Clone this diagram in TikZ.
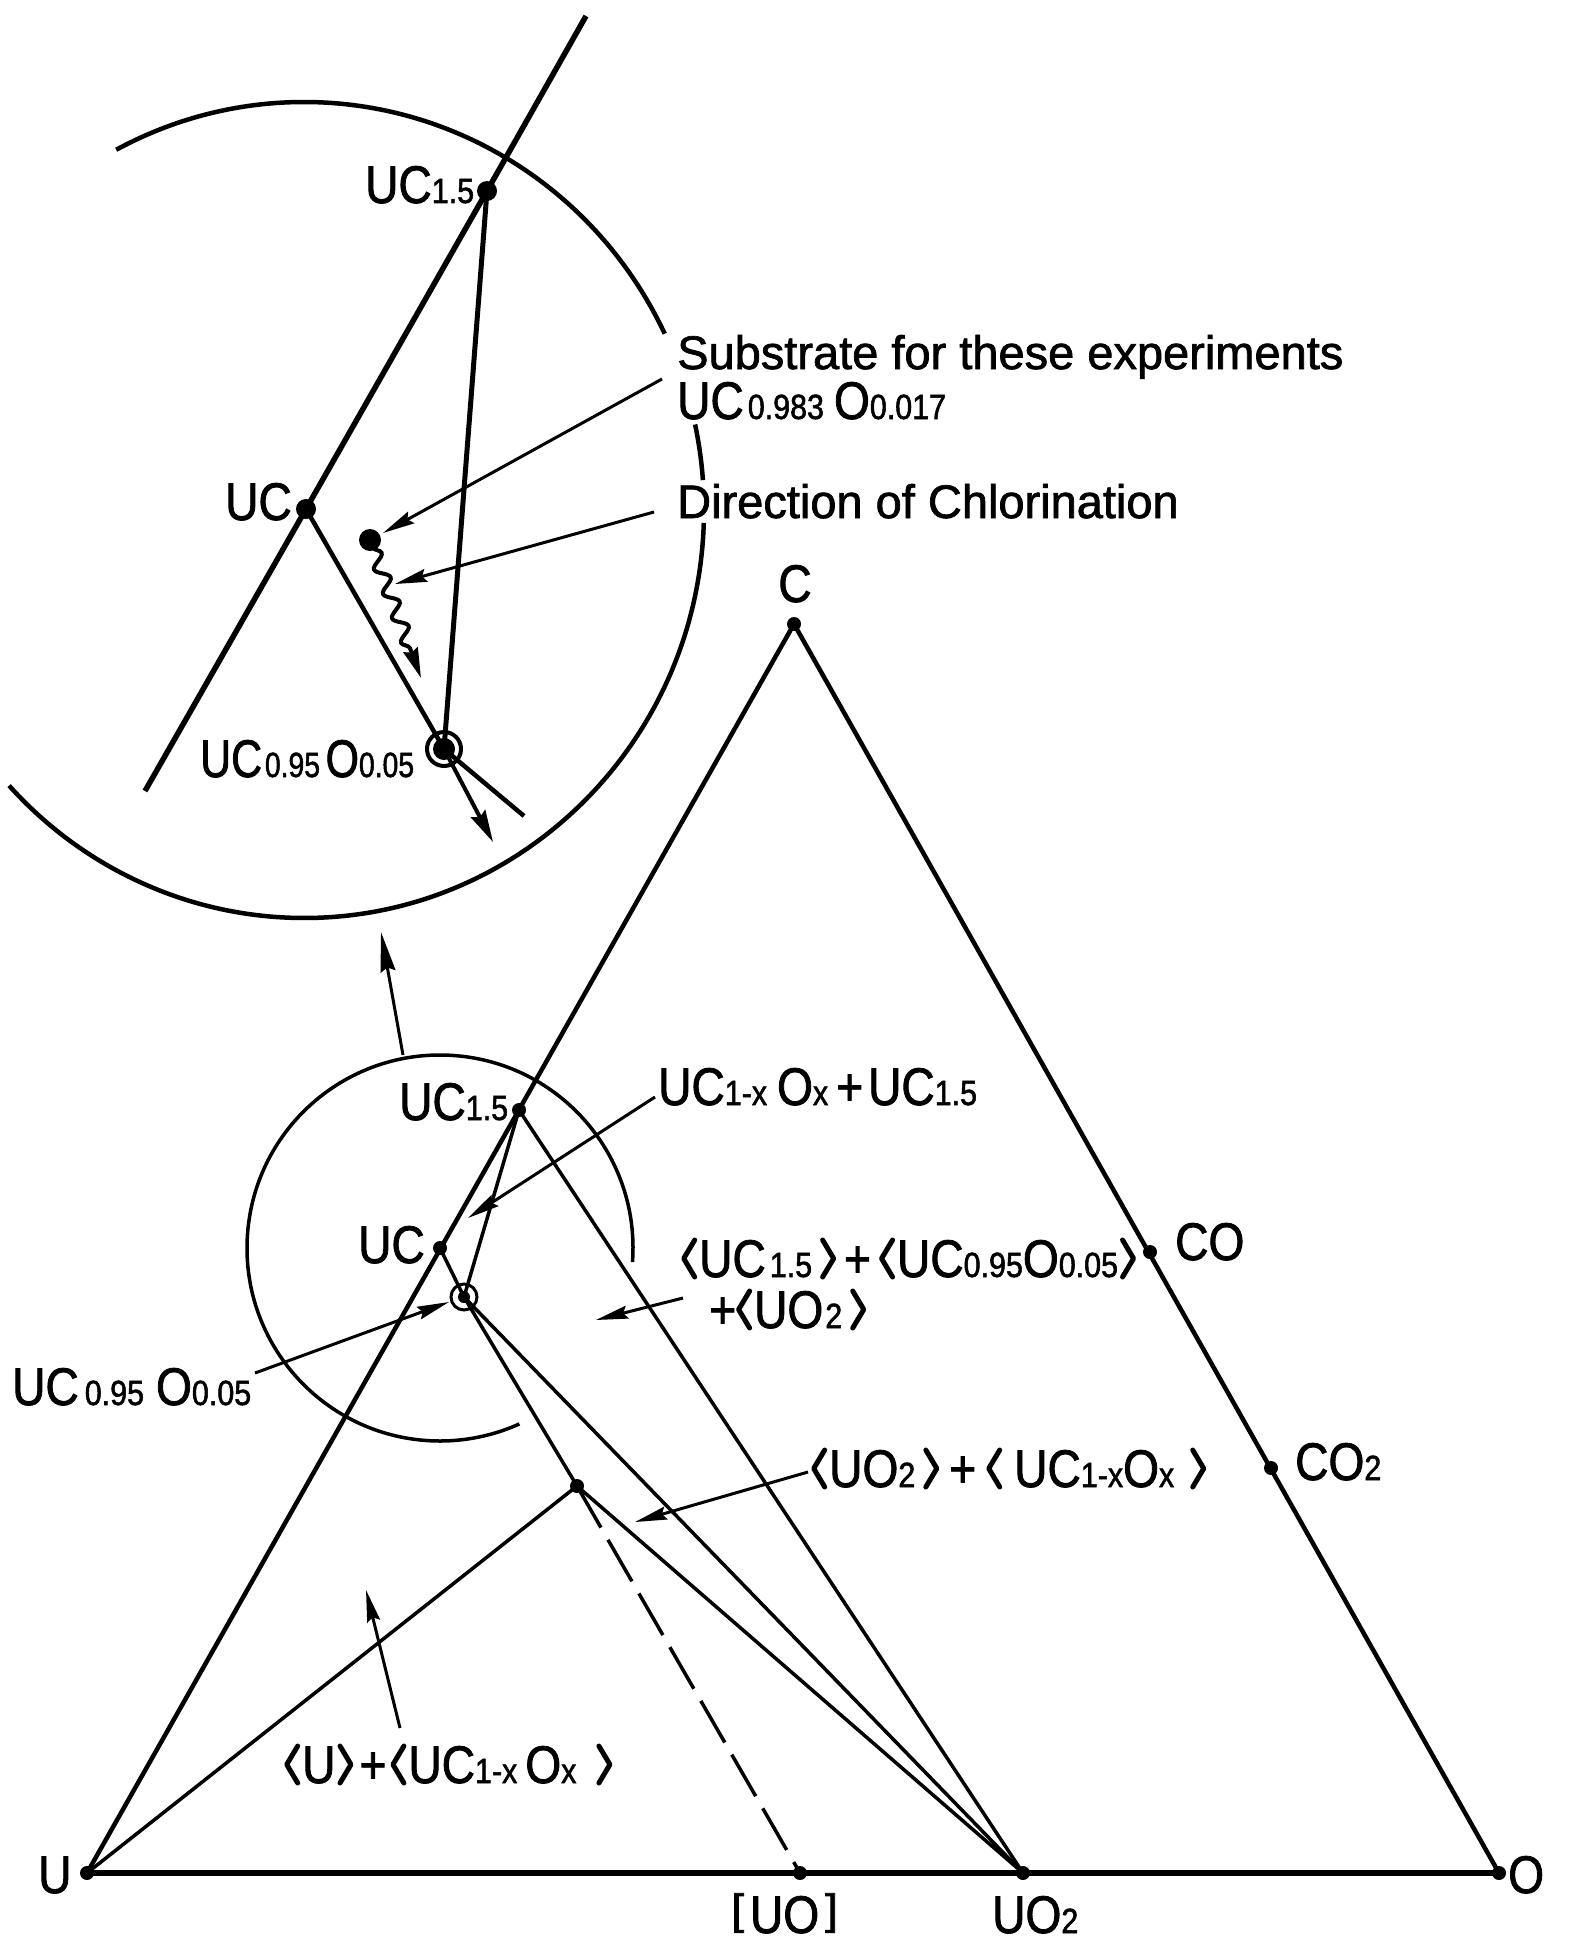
\documentclass[tikz,border=0pt]{standalone}
\usepackage{fontspec}
\setmainfont{Liberation Sans}[FakeBold=1.5]
\newfontfamily\lab{Liberation Sans}[FakeStretch=0.87,FakeBold=1.5]
\usetikzlibrary{arrows.meta,decorations.pathmorphing}
\newcommand\capsz{\fontsize{53}{56}\selectfont}
\newcommand\dg[1]{{\fontsize{35}{35}\selectfont #1}}
\newcommand\lang{\tikz[baseline=0pt,x=1pt,y=1pt]\draw[line width=5pt,line cap=round,line join=round](13,37)--(2,18.5)--(13,0);\hspace{2pt}}
\newcommand\rang{\hspace{2pt}\tikz[baseline=0pt,x=1pt,y=1pt]\draw[line width=5pt,line cap=round,line join=round](2,37)--(13,18.5)--(2,0);}
\newcommand\lbr{\raisebox{9pt}{\scalebox{1}[0.8]{[}}}
\newcommand\rbr{\raisebox{9pt}{\scalebox{1}[0.8]{]}}}
\begin{document}
\begin{tikzpicture}[x=1pt,y=-1pt,
  edge/.style={line width=4.5pt,line join=round},
  tie/.style={line width=3.5pt},
  leader/.style={line width=3pt,-{Stealth[length=32pt,width=13pt,inset=4pt]}},
  lbl/.style={inner sep=0pt,anchor=base west,font=\lab\capsz},
  txt/.style={inner sep=0pt,anchor=base west,font=\fontsize{47}{50}\selectfont}]
\fill[white] (0,0) rectangle (1572,1945);
\useasboundingbox (0,0) rectangle (1572,1945);

% ---------- ternary diagram (bottom) ----------
\coordinate (U) at (87,1873);
\coordinate (UO) at (800,1873);
\coordinate (UOtwo) at (1023,1873);
\coordinate (O) at (1499,1873);
\coordinate (C) at (794,624);
\coordinate (CO) at (1150,1252);
\coordinate (COtwo) at (1271,1468);
\coordinate (UCb) at (440,1248);
\coordinate (UCfb) at (519,1110);
\coordinate (UCOb) at (464,1297);
\coordinate (T) at (577,1486);

\draw[line width=6pt] (U) -- (O);
\draw[edge] (U) -- (C) -- (O);
\draw[tie] (U) -- (T) -- (UOtwo);
\draw[tie] (UCOb) -- (T);
\draw[tie] (UCOb) -- (UOtwo);
\draw[tie] (UCfb) -- (UOtwo);
\draw[tie] (UCfb) -- (UCOb);
\draw[tie] (UCb) -- (UCOb);
\draw[line width=3.5pt,dash pattern=on 48pt off 14pt] (T) -- (UO);

\foreach \p in {U,UO,UOtwo,O,C,CO,COtwo,UCb,UCfb,T}
  \fill (\p) circle[radius=7];
\draw[line width=3pt] (UCOb) circle[radius=13];
\fill (UCOb) circle[radius=6];

% magnifier circle (small)
\coordinate (SC) at (440,1248);
\draw[line width=3.5pt] (SC) ++(4.2:193) arc[start angle=4.2,end angle=-294.3,radius=193];
\coordinate (magA) at (403,1055);
\coordinate (magB) at (381,932);
\draw[line width=3pt,-{Stealth[length=40pt,width=15pt,inset=4pt]}] (magA) -- (magB);

% bottom labels
\node[lbl] (lU) at (38,1893) {U};
\node[lbl] (lO) at (1508,1893) {O};
\node[lbl] (lUO) at (731,1933) {\lbr\hspace{6pt}UO\hspace{6pt}\rbr};
\node[lbl] (lUOtwo) at (992,1933) {UO\dg{2}};
\node[lbl,anchor=base] (lC) at (795,602) {C};
\node[lbl] (lCO) at (1175,1260) {CO};
\node[lbl] (lCOtwo) at (1295,1480) {CO\dg{2}};
\node[lbl] (lUCfb) at (399,1120) {UC\dg{1.5}};
\node[lbl] (lUCb) at (358,1263) {UC};
\node[lbl] (lUCOb) at (12,1405) {UC\hspace{6pt}\dg{0.95}\hspace{12pt}O\dg{0.05}};
\node[lbl] (lmixA) at (658,1105) {UC\dg{1-x}\hspace{10pt}O\dg{x}\hspace{8pt}+\hspace{5pt}UC\dg{1.5}};
\node[lbl] (lmixB) at (681,1277) {\lang UC\hspace{4pt}\dg{1.5}\hspace{6pt}\rang\hspace{8pt}+\hspace{8pt}\lang UC\dg{0.95}O\dg{0.05}\rang};
\node[lbl] (lmixBb) at (709,1328) {+\lang UO\hspace{2pt}\dg{2}\hspace{6pt}\rang};
\node[lbl] (lmixC) at (811,1487) {\lang UO\dg{2}\hspace{6pt}\rang\hspace{10pt}+\hspace{10pt}\lang\hspace{10pt}UC\dg{1-x}O\dg{x}\hspace{14pt}\rang};
\node[lbl] (lmixD) at (284,1783) {\lang U\rang\hspace{6pt}+\hspace{4pt}\lang UC\dg{1-x}\hspace{8pt}O\dg{x}\hspace{18pt}\rang};

% bottom leaders
\coordinate (aA) at (255,1373); \coordinate (aAe) at (449,1302);
\coordinate (aB) at (655,1097); \coordinate (aBe) at (468,1218);
\coordinate (aC) at (683,1298); \coordinate (aCe) at (596,1320);
\coordinate (aD) at (808,1472); \coordinate (aDe) at (635,1522);
\coordinate (aE) at (400,1728); \coordinate (aEe) at (366,1590);
\draw[leader] (aA) -- (aAe);
\draw[leader] (aB) -- (aBe);
\draw[leader] (aC) -- (aCe);
\draw[leader] (aD) -- (aDe);
\draw[leader] (aE) -- (aEe);

% ---------- magnified view (top) ----------
\coordinate (UCt) at (306,509);
\coordinate (UCft) at (487,191);
\coordinate (UCOt) at (444,749);
\coordinate (Sub) at (370,540);
\coordinate (Ltop) at (586,16);
\coordinate (Lbot) at (145,791);
\coordinate (Lend) at (524,816);
\coordinate (Aend) at (493,842);
\coordinate (Wend) at (421,678);

\draw[line width=5.5pt] (Ltop) -- (UCft) -- (UCt) -- (Lbot);
\draw[line width=5pt] (UCft) -- (UCOt);
\draw[line width=4.5pt,line join=round] (UCt) -- (UCOt) -- (Lend);
\draw[line width=4pt,-{Stealth[length=32pt,width=16pt,inset=4pt]}] (UCOt) -- (Aend);
\fill (UCft) circle[radius=10];
\fill (UCt) circle[radius=10];
\draw[line width=4pt] (UCOt) circle[radius=17];
\fill (UCOt) circle[radius=11];
\fill (Sub) circle[radius=11];
\draw[line width=4pt,-{Stealth[length=30pt,width=15pt,inset=3pt]},decorate,
  decoration={snake,amplitude=6.5pt,segment length=26pt,pre length=8pt,post length=30pt}]
  (Sub) -- (Wend);

% big circle (magnified region)
\coordinate (BC) at (304,510);
\draw[line width=4.5pt] (BC) ++(-118:400 and 408) arc[start angle=-118,end angle=-25.6,x radius=400,y radius=408];
\draw[line width=4.5pt] (BC) ++(-12.1:400 and 408) arc[start angle=-12.1,end angle=-4.2,x radius=400,y radius=408];
\draw[line width=4.5pt] (BC) ++(1.8:400 and 408) arc[start angle=1.8,end angle=137.5,x radius=400,y radius=408];

% top labels
\node[lbl] (lUCft) at (365,203) {UC\dg{1.5}};
\node[lbl] (lUCt) at (225,520) {UC};
\node[lbl] (lUCOt) at (200,777) {\scalebox{0.93}[1]{UC\hspace{3pt}\dg{0.95}\hspace{6pt}O\dg{0.05}}};
\node[txt] (lsub) at (677,369) {Substrate for these experiments};
\node[lbl] (lsubf) at (677,419) {UC\hspace{4pt}\dg{0.983}\hspace{10pt}O\dg{0.017}};
\node[txt] (ldir) at (677,518) {Direction of Chlorination};

% top leaders
\coordinate (sA) at (662,379); \coordinate (sAe) at (383,533);
\coordinate (dA) at (654,512); \coordinate (dAe) at (395,584);
\draw[leader] (sA) -- (sAe);
\draw[leader] (dA) -- (dAe);
\end{tikzpicture}
\end{document}
